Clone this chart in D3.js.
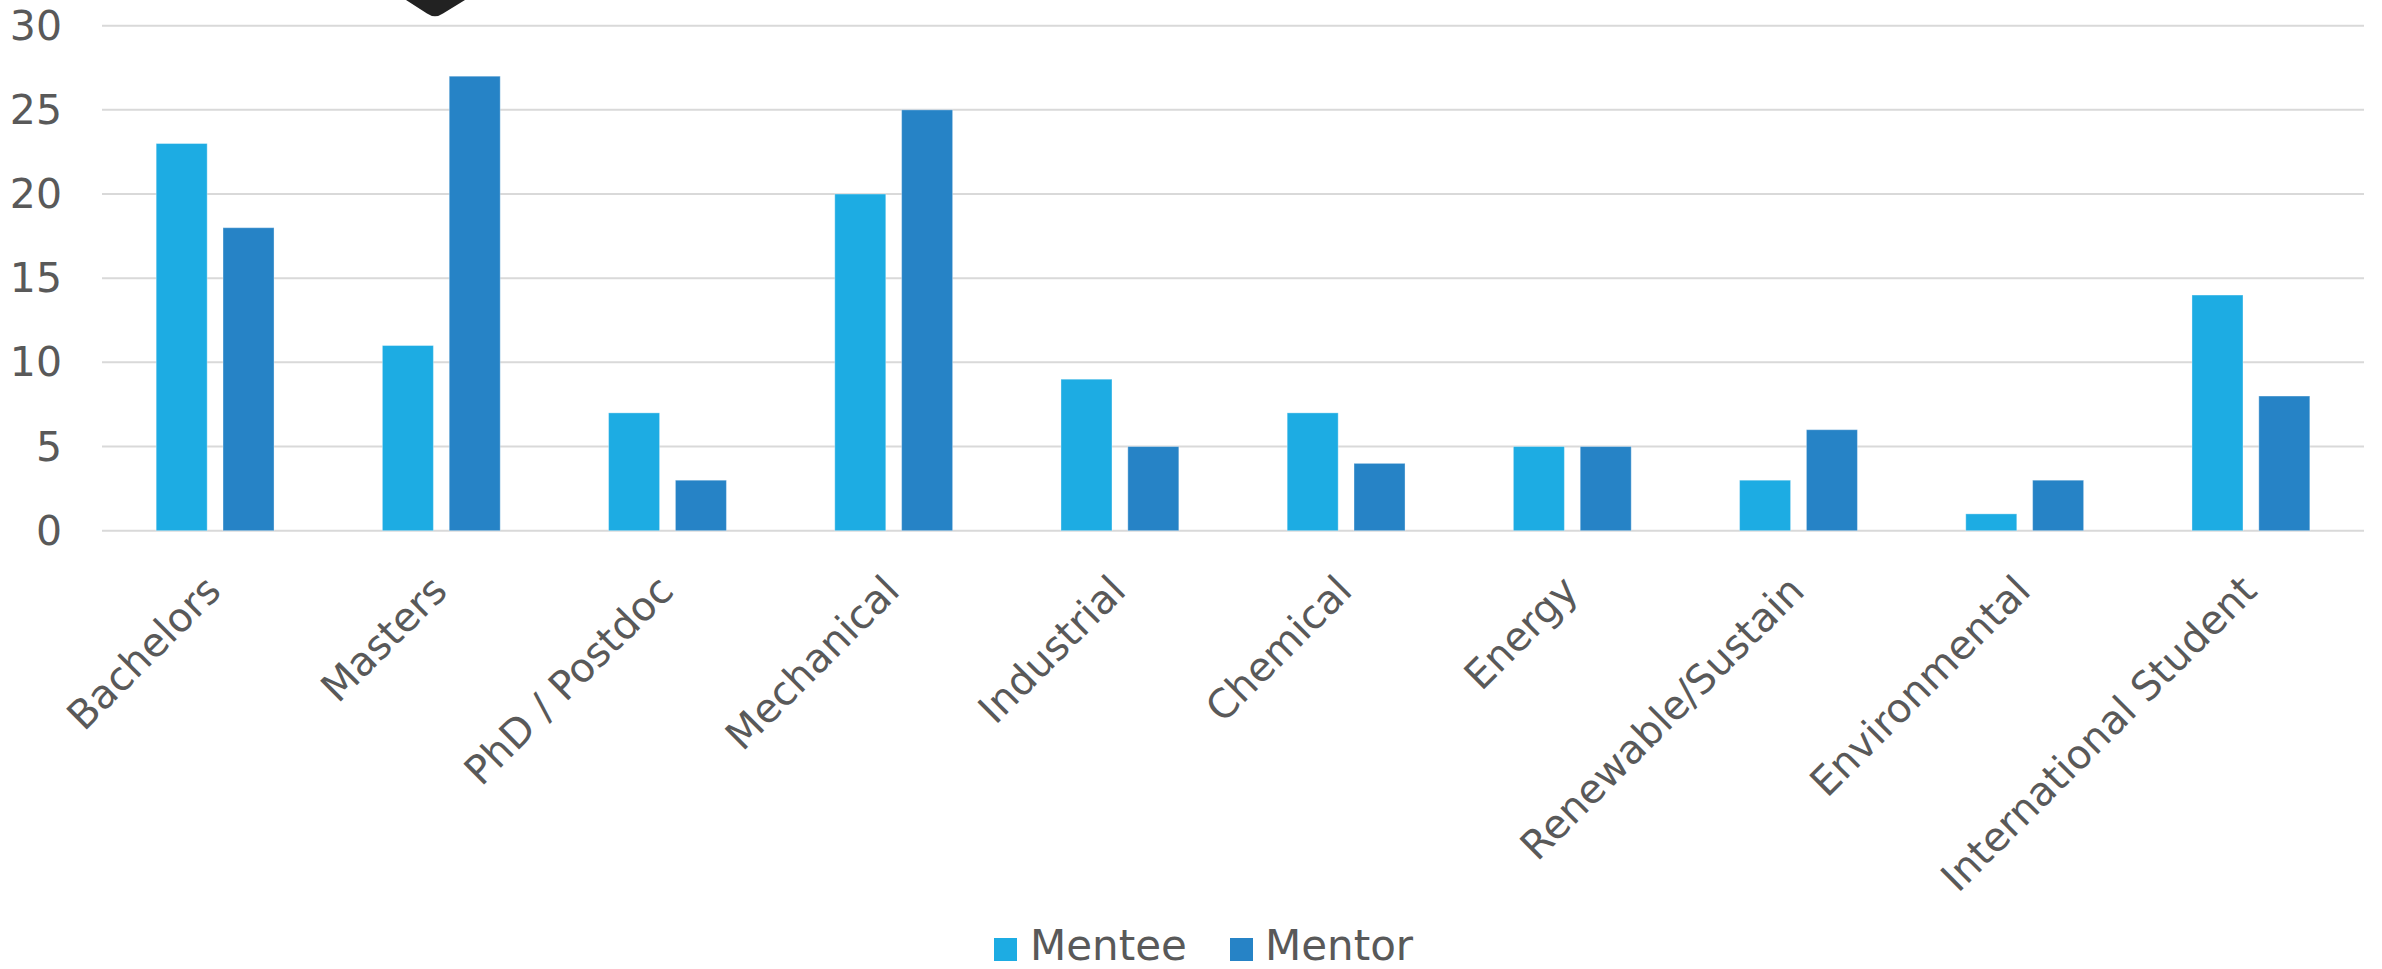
<!DOCTYPE html>
<html>
<head>
<meta charset="utf-8">
<script src="https://cdn.jsdelivr.net/npm/d3@7"></script>
<style>
  html, body { margin: 0; padding: 0; background: #fff; }
  svg { display: block; }
  text { font-family: "DejaVu Sans", sans-serif; fill: #595959; }
</style>
</head>
<body>
<svg id="chart" width="2382" height="969"></svg>
<script>
const categories = ["Bachelors", "Masters", "PhD / Postdoc", "Mechanical", "Industrial",
  "Chemical", "Energy", "Renewable/Sustain", "Environmental", "International Student"];
const seriesNames = ["Mentee", "Mentor"];
const menteeValues = [23, 11, 7, 20, 9, 7, 5, 3, 1, 14];
const mentorValues = [18, 27, 3, 25, 5, 4, 5, 6, 3, 8];
const yTicks = [0, 5, 10, 15, 20, 25, 30];
const colors = ["#1DACE3", "#2683C6"];

const plot = { left: 102, right: 2364, top: 25.7, bottom: 530.7 };
const svg = d3.select("#chart");

const x = d3.scaleBand().domain(categories).range([plot.left, plot.right]).padding(0);
const y = d3.scaleLinear().domain([0, 30]).range([plot.bottom, plot.top]);

// gridlines
svg.append("g")
  .selectAll("line").data(yTicks).join("line")
  .attr("x1", plot.left).attr("x2", plot.right)
  .attr("y1", d => y(d)).attr("y2", d => y(d))
  .attr("stroke", "#D9D9D9").attr("stroke-width", 2);

// y tick labels
svg.append("g")
  .selectAll("text").data(yTicks).join("text")
  .attr("x", 62).attr("y", d => y(d))
  .attr("text-anchor", "end").attr("dominant-baseline", "central")
  .style("font-size", "41px")
  .text(d => d);

// bars
const bw = x.bandwidth() * 0.2255;
const gap = x.bandwidth() * 0.07;
const sub = d3.scaleOrdinal().domain(seriesNames).range([
  x.bandwidth() / 2 - gap / 2 - bw,
  x.bandwidth() / 2 + gap / 2
]);
const data = categories.map((c, i) => ({ c, vals: [menteeValues[i], mentorValues[i]] }));
const groups = svg.append("g").selectAll("g").data(data).join("g")
  .attr("transform", d => `translate(${x(d.c)},0)`);
groups.selectAll("rect").data(d => d.vals.map((v, j) => ({ v, s: seriesNames[j], j })))
  .join("rect")
  .attr("x", d => sub(d.s))
  .attr("width", bw)
  .attr("y", d => y(d.v))
  .attr("height", d => y(0) - y(d.v))
  .attr("fill", d => colors[d.j])
  .attr("stroke", "rgba(255,255,255,0.35)")
  .attr("stroke-width", 1);

// x labels
svg.append("g").selectAll("text").data(categories).join("text")
  .attr("transform", d => `translate(${x(d) + x.bandwidth() / 2 + 8},593) rotate(-45)`)
  .attr("text-anchor", "end")
  .style("font-size", "40px")
  .text(d => d);

// legend
const legendItems = [
  { name: seriesNames[0], color: colors[0], sx: 994, tx: 1030 },
  { name: seriesNames[1], color: colors[1], sx: 1230, tx: 1265 }
];
const lg = svg.append("g");
legendItems.forEach(it => {
  lg.append("rect").attr("x", it.sx).attr("y", 938).attr("width", 23).attr("height", 23).attr("fill", it.color);
  lg.append("text").attr("x", it.tx).attr("y", 960).style("font-size", "42px").text(it.name);
});

// dark shape at top (partially visible)
svg.append("path")
  .attr("d", "M406,0 L427,13.5 Q435,19 443,13.5 L465,0 Z")
  .attr("fill", "#222222");
</script>
</body>
</html>
